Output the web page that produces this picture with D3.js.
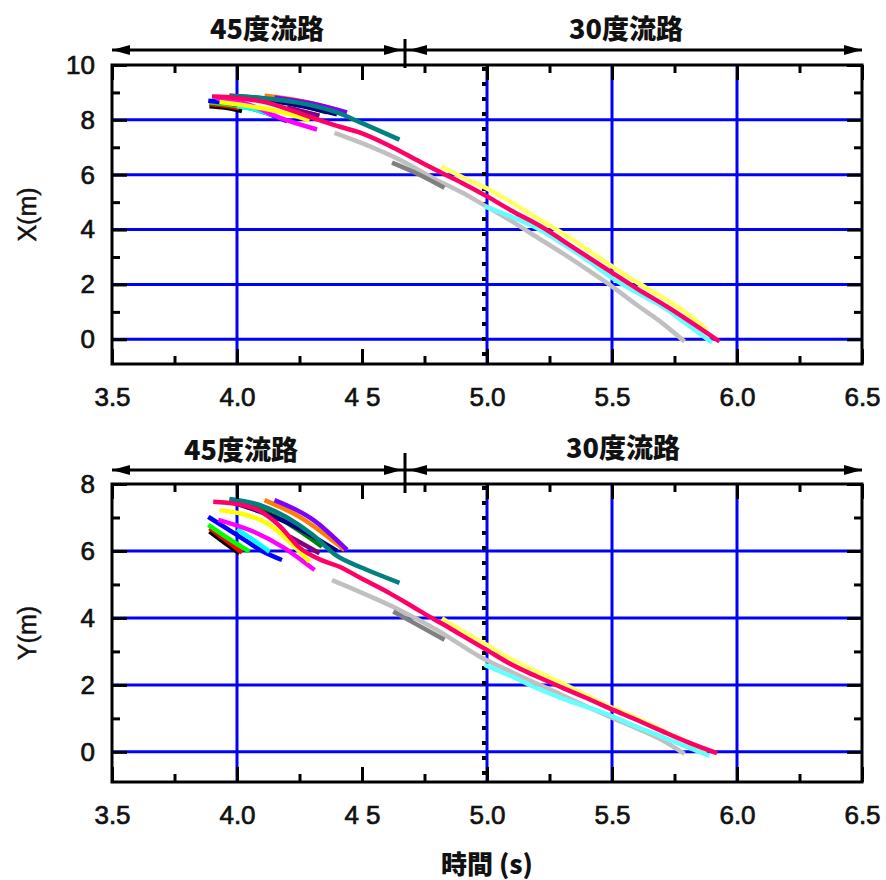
<!DOCTYPE html>
<html>
<head>
<meta charset="utf-8">
<script src="https://cdn.jsdelivr.net/npm/d3@7"></script>
<style>
  html, body { margin: 0; padding: 0; background: #fff; }
  svg { display: block; }
</style>
</head>
<body>
<svg id="chart" width="886" height="880"></svg>
<script>
// ---------------- DATA ----------------
const timeTicks = [3.5, 4.0, 4.5, 5.0, 5.5, 6.0, 6.5];
const timeTickLabels = ["3.5", "4.0", "4 5", "5.0", "5.5", "6.0", "6.5"];
const timeMinorTicks = [3.75, 4.25, 4.75, 5.25, 5.75, 6.25];
const timeGrid = [4.0, 5.0, 5.5, 6.0];
const dividerTime = 4.672;

const xMajorTicks = [0, 2, 4, 6, 8, 10];
const xMinorTicks = [1, 3, 5, 7, 9];
const xGridValues = [0, 2, 4, 6, 8];
const yMajorTicks = [0, 2, 4, 6, 8];
const yMinorTicks = [1, 3, 5, 7];
const yGridValues = [0, 2, 4, 6];

const sectionLabels = ["45度流路", "30度流路"];
const xAxisTitle = "時間 (s)";
const topAxisTitle = "X(m)";
const bottomAxisTitle = "Y(m)";

const seriesNames = ["black", "red", "green", "blue", "cyan", "magenta", "yellow",
  "darkgreen", "navy", "darkpurple", "orange", "purple", "teal",
  "lightgray", "darkgray", "yellow30", "cyan30", "pink"];

// X position (m) vs time (s)
const xBlack = [[3.89,8.50],[3.95,8.45],[4.02,8.32]];
const xRed = [[3.89,8.58],[3.95,8.52],[4.01,8.42]];
const xGreen = [[3.89,8.63],[3.97,8.55],[4.05,8.42]];
const xBlue = [[3.885,8.70],[4.0,8.55],[4.1,8.3],[4.2,7.95]];
const xCyan = [[4.0,8.5],[4.07,8.38],[4.14,8.18]];
const xMagenta = [[3.92,8.78],[4.05,8.55],[4.17,8.08],[4.32,7.65]];
const xYellow = [[3.93,8.65],[4.05,8.5],[4.17,8.3],[4.29,7.98]];
const xDarkGreen = [[3.97,8.88],[4.1,8.78],[4.25,8.55],[4.36,8.27]];
const xNavy = [[3.98,8.82],[4.2,8.6],[4.4,8.2]];
const xDarkPurple = [[4.2,8.45],[4.33,8.15]];
const xOrange = [[4.11,8.88],[4.25,8.7],[4.41,8.34]];
const xPurple = [[4.15,8.82],[4.3,8.6],[4.44,8.27]];
const xTeal = [[3.97,8.88],[4.1,8.8],[4.25,8.62],[4.4,8.27],[4.5,7.88],[4.65,7.28]];
const xLightGray = [[4.39,7.53],[4.5,7.15],[4.65,6.55],[4.8,5.8],[4.9,5.35],[4.985,4.91],[5.1,4.3],[5.2,3.72],[5.3,3.15],[5.4,2.55],[5.48,2.06],[5.6,1.25],[5.7,0.6],[5.79,-0.08]];
const xDarkGray = [[4.62,6.44],[4.73,6.0],[4.83,5.52]];
const xYellow30 = [[4.817,6.3],[4.9,5.92],[5.0,5.5],[5.1,4.98],[5.2,4.42],[5.3,3.88],[5.4,3.28],[5.5,2.66],[5.6,2.08],[5.72,1.42],[5.8,0.95],[5.88,0.35]];
const xCyan30 = [[4.99,4.85],[5.09,4.5],[5.185,4.12],[5.3,3.5],[5.4,2.9],[5.5,2.24],[5.6,1.7],[5.72,1.08],[5.8,0.55],[5.9,-0.12]];
const xPink = [[3.90,8.85],[4.0,8.8],[4.12,8.63],[4.2,8.4],[4.32,8.02],[4.4,7.78],[4.49,7.54],[4.6,7.1],[4.73,6.48],[4.8,6.15],[4.9,5.7],[5.0,5.21],[5.1,4.68],[5.224,4.07],[5.3,3.62],[5.4,3.02],[5.5,2.43],[5.6,1.85],[5.72,1.19],[5.8,0.72],[5.93,-0.08]];

// Y position (m) vs time (s)
const yBlack = [[3.89,6.58],[3.95,6.25],[4.01,5.93]];
const yRed = [[3.89,6.68],[3.96,6.3],[4.02,5.95]];
const yGreen = [[3.885,6.78],[3.97,6.35],[4.05,5.98]];
const yBlue = [[3.885,7.02],[4.01,6.43],[4.1,6.0],[4.18,5.73]];
const yCyan = [[4.0,6.65],[4.07,6.3],[4.13,5.98]];
const yMagenta = [[3.925,6.93],[4.065,6.58],[4.18,6.13],[4.31,5.43]];
const yYellow = [[3.93,7.22],[4.12,6.83],[4.23,6.13],[4.29,5.68]];
const yDarkGreen = [[3.97,7.55],[4.15,7.05],[4.34,6.13]];
const yNavy = [[3.98,7.45],[4.2,6.85],[4.3,6.45],[4.4,6.0]];
const yDarkPurple = [[4.21,6.43],[4.33,5.93]];
const yOrange = [[4.11,7.52],[4.25,7.02],[4.43,6.03]];
const yPurple = [[4.15,7.52],[4.305,6.93],[4.44,6.03]];
const yTeal = [[3.97,7.55],[4.1,7.35],[4.2,7.0],[4.3,6.5],[4.4,5.85],[4.5,5.5],[4.65,5.05]];
const yLightGray = [[4.38,5.13],[4.5,4.75],[4.65,4.24],[4.8,3.64],[4.97,2.85],[5.1,2.38],[5.3,1.7],[5.49,1.05],[5.6,0.7],[5.7,0.35],[5.79,-0.06]];
const yDarkGray = [[4.625,4.19],[4.72,3.8],[4.83,3.35]];
const yYellow30 = [[4.82,3.99],[4.9,3.62],[5.0,3.19],[5.1,2.75],[5.2,2.4],[5.3,2.05],[5.49,1.35],[5.6,1.0],[5.7,0.65],[5.8,0.3],[5.88,0.01]];
const yCyan30 = [[4.99,2.6],[5.1,2.25],[5.2,1.9],[5.3,1.6],[5.49,1.1],[5.6,0.75],[5.7,0.45],[5.8,0.15],[5.89,-0.12]];
const yPink = [[3.905,7.47],[4.0,7.4],[4.09,7.2],[4.17,6.75],[4.25,6.1],[4.33,5.75],[4.41,5.53],[4.5,5.17],[4.61,4.74],[4.7,4.35],[4.77,4.04],[4.85,3.7],[4.92,3.39],[5.0,3.04],[5.1,2.6],[5.2,2.25],[5.3,1.92],[5.4,1.6],[5.49,1.3],[5.6,0.95],[5.7,0.62],[5.8,0.3],[5.92,-0.04]];

const xSeriesData = [xBlack, xRed, xGreen, xBlue, xCyan, xMagenta, xYellow, xDarkGreen, xNavy, xDarkPurple, xOrange, xPurple, xTeal, xLightGray, xDarkGray, xYellow30, xCyan30, xPink];
const ySeriesData = [yBlack, yRed, yGreen, yBlue, yCyan, yMagenta, yYellow, yDarkGreen, yNavy, yDarkPurple, yOrange, yPurple, yTeal, yLightGray, yDarkGray, yYellow30, yCyan30, yPink];

// ---------------- STYLE ----------------
const seriesColors = {
  black: "#000000", red: "#ff0000", green: "#00ff00", blue: "#0000ff", cyan: "#00ffff",
  magenta: "#ff00ff", yellow: "#ffff00", darkgreen: "#008000", navy: "#000080",
  darkpurple: "#800080", orange: "#ff8000", purple: "#8000ff", teal: "#008080",
  lightgray: "#c0c0c0", darkgray: "#808080", yellow30: "#ffff66", cyan30: "#66ffff", pink: "#ff0066"
};

const svg = d3.select("#chart");
const tickFont = "'Liberation Sans', Arial, sans-serif";
const cjkFont = "'Noto Sans CJK JP', 'Noto Sans CJK SC', sans-serif";

const xScale = d3.scaleLinear().domain([3.5, 6.5]).range([112, 862]);

const panels = [
  { yScale: d3.scaleLinear().domain([-0.9, 10]).range([364, 65]),
    major: xMajorTicks, minor: xMinorTicks, grid: xGridValues, data: xSeriesData,
    title: topAxisTitle, arrowY: 50, divTop: 39, divBot: 68,
    labelY: [27, 27], labelX: [267, 626] },
  { yScale: d3.scaleLinear().domain([-0.9, 8]).range([782, 484]),
    major: yMajorTicks, minor: yMinorTicks, grid: yGridValues, data: ySeriesData,
    title: bottomAxisTitle, arrowY: 470, divTop: 453, divBot: 493,
    labelY: [448, 446], labelX: [241, 623] }
];

panels.forEach(p => {
  const y = p.yScale;
  const [yb, yt] = y.range();
  const [xl, xr] = xScale.range();
  const g = svg.append("g");

  // grid
  g.selectAll(".hgrid").data(p.grid).join("line")
    .attr("x1", xl).attr("x2", xr).attr("y1", d => y(d)).attr("y2", d => y(d))
    .attr("stroke", "#0000ff").attr("stroke-width", 3);
  g.selectAll(".vgrid").data(timeGrid).join("line")
    .attr("x1", d => xScale(d)).attr("x2", d => xScale(d)).attr("y1", yt).attr("y2", yb)
    .attr("stroke", "#0000ff").attr("stroke-width", 3);
  // dotted black line at 5.0
  g.append("line")
    .attr("x1", xScale(5.0) - 3).attr("x2", xScale(5.0) - 3)
    .attr("y1", yt + 2).attr("y2", yb)
    .attr("stroke", "#000").attr("stroke-width", 4).attr("stroke-dasharray", "4,11");

  // series
  const line = d3.line().x(d => xScale(d[0])).y(d => y(d[1])).curve(d3.curveMonotoneX);
  p.data.forEach((arr, i) => {
    g.append("path").datum(arr)
      .attr("d", line)
      .attr("fill", "none")
      .attr("stroke", seriesColors[seriesNames[i]])
      .attr("stroke-width", 4.5)
      .attr("stroke-linejoin", "round");
  });

  // axes
  const styleAxis = sel => {
    sel.select(".domain").remove();
    sel.selectAll("line").attr("stroke", "#000").attr("stroke-width", 3);
    sel.selectAll("text").attr("font-family", tickFont).attr("font-size", 26).attr("fill", "#111")
      .attr("stroke", "#111").attr("stroke-width", 0.7);
  };
  g.append("g").attr("transform", `translate(0,${yb})`)
    .call(d3.axisBottom(xScale).tickValues(timeTicks).tickSize(-15).tickPadding(24)
      .tickFormat((d, i) => timeTickLabels[i])).call(styleAxis);
  g.append("g").attr("transform", `translate(0,${yb})`)
    .call(d3.axisBottom(xScale).tickValues(timeMinorTicks).tickSize(-8).tickFormat("")).call(styleAxis);
  g.append("g").attr("transform", `translate(0,${yt})`)
    .call(d3.axisTop(xScale).tickValues(timeTicks).tickSize(-15).tickFormat("")).call(styleAxis);
  g.append("g").attr("transform", `translate(0,${yt})`)
    .call(d3.axisTop(xScale).tickValues(timeMinorTicks).tickSize(-8).tickFormat("")).call(styleAxis);
  g.append("g").attr("transform", `translate(${xl},0)`)
    .call(d3.axisLeft(y).tickValues(p.major).tickSize(-15).tickPadding(17).tickFormat(d3.format("d"))).call(styleAxis);
  g.append("g").attr("transform", `translate(${xl},0)`)
    .call(d3.axisLeft(y).tickValues(p.minor).tickSize(-8).tickFormat("")).call(styleAxis);
  g.append("g").attr("transform", `translate(${xr},0)`)
    .call(d3.axisRight(y).tickValues(p.major).tickSize(-15).tickFormat("")).call(styleAxis);
  g.append("g").attr("transform", `translate(${xr},0)`)
    .call(d3.axisRight(y).tickValues(p.minor).tickSize(-8).tickFormat("")).call(styleAxis);

  // frame
  g.append("rect").attr("x", xl).attr("y", yt).attr("width", xr - xl).attr("height", yb - yt)
    .attr("fill", "none").attr("stroke", "#000").attr("stroke-width", 3);

  // y axis title
  g.append("text")
    .attr("transform", `translate(27,${(yt + yb) / 2}) rotate(-90)`)
    .attr("text-anchor", "middle").attr("dominant-baseline", "central")
    .attr("font-family", tickFont).attr("font-size", 25).attr("fill", "#111")
    .attr("stroke", "#111").attr("stroke-width", 0.5)
    .text(p.title);

  // section arrows
  const ay = p.arrowY;
  const xd = xScale(dividerTime);
  g.append("line").attr("x1", xl).attr("x2", xr).attr("y1", ay).attr("y2", ay)
    .attr("stroke", "#000").attr("stroke-width", 3);
  g.append("line").attr("x1", xd).attr("x2", xd).attr("y1", p.divTop).attr("y2", p.divBot)
    .attr("stroke", "#000").attr("stroke-width", 3);
  const head = (tip, dir) => {
    const L = 18, w = 5;
    return `M${tip},${ay} L${tip - dir * L},${ay - w} L${tip - dir * L},${ay + w} Z`;
  };
  [[xl, -1], [xd - 3, 1], [xd + 4, -1], [xr, 1]].forEach(([tip, dir]) => {
    g.append("path").attr("d", head(tip, dir)).attr("fill", "#000");
  });
  sectionLabels.forEach((lab, i) => {
    g.append("text").attr("x", p.labelX[i]).attr("y", p.labelY[i])
      .attr("text-anchor", "middle").attr("dominant-baseline", "central")
      .attr("font-family", cjkFont).attr("font-weight", 900).attr("font-size", 27)
      .attr("fill", "#111").text(lab);
  });
});

svg.append("text").attr("x", 487).attr("y", 862)
  .attr("text-anchor", "middle").attr("dominant-baseline", "central")
  .attr("font-family", cjkFont).attr("font-weight", 900).attr("font-size", 26)
  .attr("fill", "#111").text(xAxisTitle);
</script>
</body>
</html>
